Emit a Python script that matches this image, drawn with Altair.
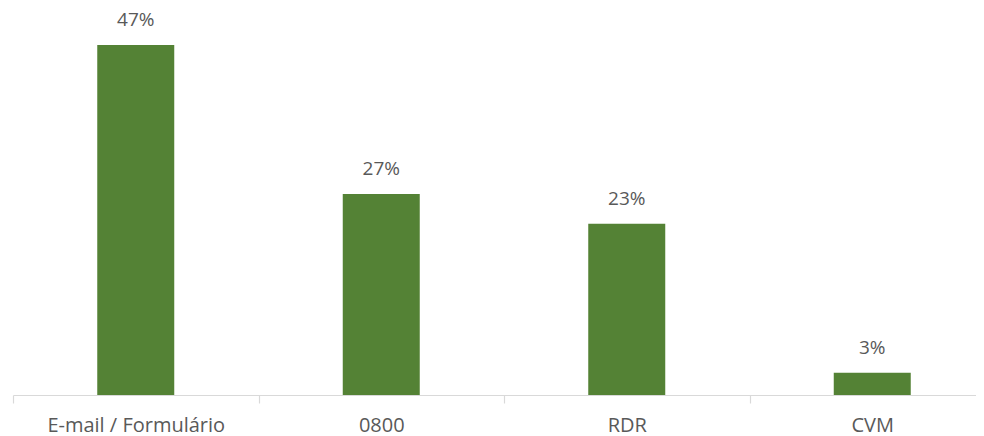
import altair as alt
import pandas as pd

categories = ["E-mail / Formulário", "0800", "RDR", "CVM"]
values = [47, 27, 23, 3]
labels = ["47%", "27%", "23%", "3%"]

df = pd.DataFrame({"cat": categories, "val": values, "lab": labels})

FONT = "Open Sans"

x = alt.X("cat:N", sort=categories, title=None,
          scale=alt.Scale(paddingInner=0, paddingOuter=0, range=[0, 982]),
          axis=alt.Axis(labelAngle=0, labelFont=FONT, labelFontSize=20,
                        labelColor="#595959", domainColor="#d9d9d9",
                        tickColor="#d9d9d9", tickSize=8, tickBand="extent",
                        labelPadding=12, domainWidth=1.2, tickWidth=1.2))
y = alt.Y("val:Q", title=None, scale=alt.Scale(domain=[0, 51.3], nice=False),
          axis=None)

bars = alt.Chart(df).mark_bar(size=77, color="#548235").encode(x=x, y=y)
text = alt.Chart(df).mark_text(dy=-15, baseline="bottom", font=FONT,
                               fontSize=19, color="#595959").encode(
    x=x, y=y, text="lab:N")

chart = (bars + text).properties(
    width=963, height=382,
    autosize=alt.AutoSizeParams(type="none"),
    padding={"left": 5, "top": 5, "right": 0, "bottom": 41},
).configure_view(stroke=None)

chart.save("out.html", embed_options={"renderer": "svg", "actions": False})
